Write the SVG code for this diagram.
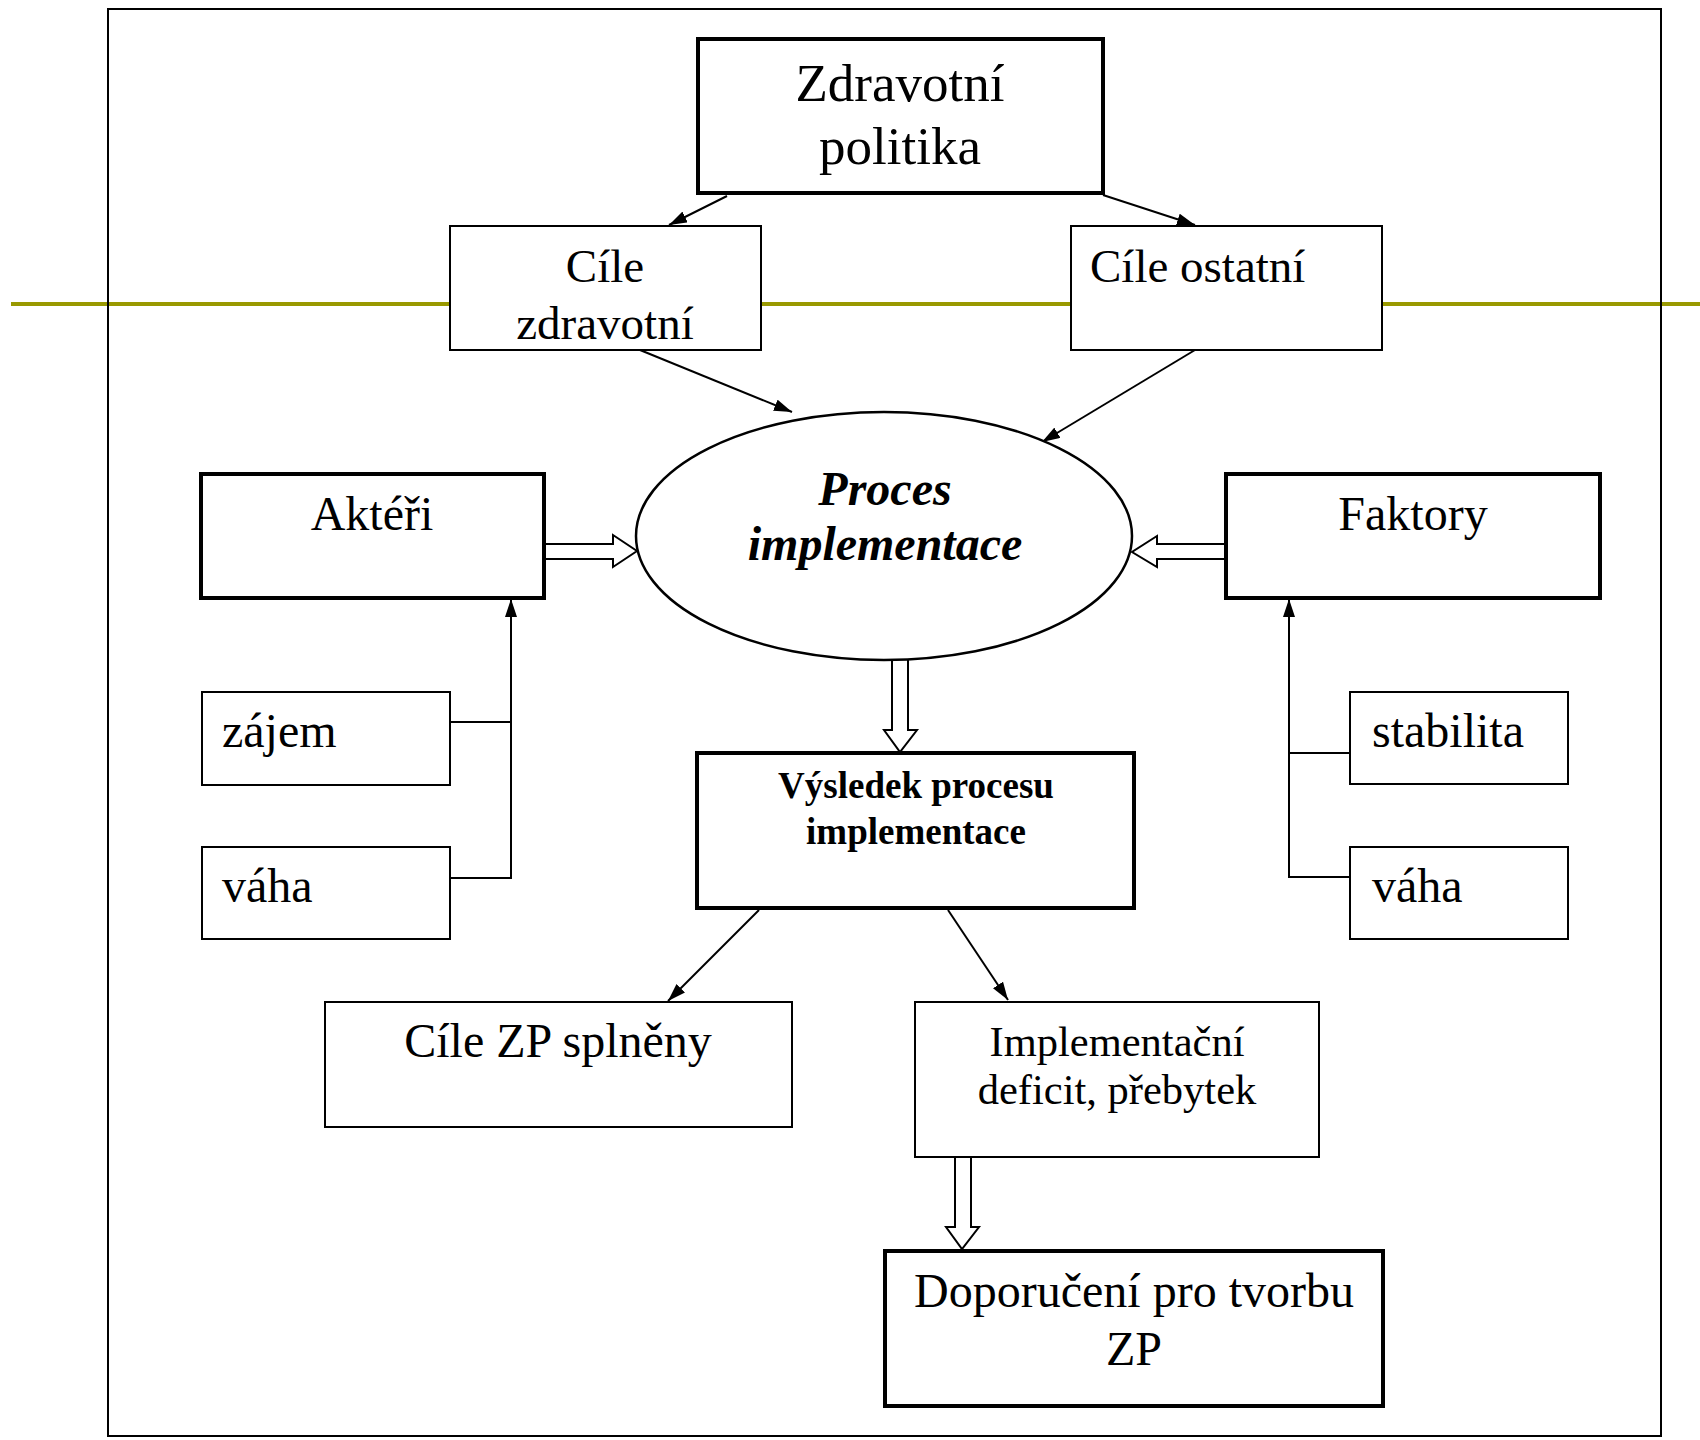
<svg xmlns="http://www.w3.org/2000/svg" width="1700" height="1440" viewBox="0 0 1700 1440">
<style>
text{font-family:"Liberation Serif","Times New Roman",serif;fill:#000}
.t48{font-size:48px}
.c{text-anchor:middle}
.thin{fill:#fff;stroke:#000;stroke-width:2}
.thick{fill:#fff;stroke:#000;stroke-width:4}
.ln{fill:none;stroke:#000;stroke-width:2}
.hollow{fill:#fff;stroke:#000;stroke-width:2;stroke-linejoin:miter}
</style>
<defs>
<marker id="ah" viewBox="0 0 18 12" refX="18" refY="6" markerWidth="18" markerHeight="12" markerUnits="userSpaceOnUse" orient="auto">
<path d="M0,0 L18,6 L0,12 z" fill="#000"/>
</marker>
</defs>
<rect width="1700" height="1440" fill="#fff"/>
<line x1="11" y1="304" x2="1700" y2="304" stroke="#999900" stroke-width="4"/>
<rect x="108" y="9" width="1553" height="1427" fill="none" stroke="#000" stroke-width="2"/>

<g id="connectors">
<line class="ln" x1="727" y1="196" x2="669" y2="225" marker-end="url(#ah)"/>
<line class="ln" x1="1103" y1="195" x2="1195" y2="225" marker-end="url(#ah)"/>
<line class="ln" x1="640" y1="350" x2="792" y2="412" marker-end="url(#ah)"/>
<line class="ln" x1="1195" y1="350" x2="1042" y2="442" marker-end="url(#ah)"/>
<line class="ln" x1="759" y1="910" x2="668" y2="1001" marker-end="url(#ah)"/>
<line class="ln" x1="948" y1="910" x2="1008" y2="1000" marker-end="url(#ah)"/>
<polyline class="ln" points="450,722 511,722"/>
<polyline class="ln" points="450,878 511,878 511,599" marker-end="url(#ah)"/>
<polyline class="ln" points="1350,753 1289,753"/>
<polyline class="ln" points="1350,877 1289,877 1289,599" marker-end="url(#ah)"/>
<polygon class="hollow" points="544,544 613,544 613,535 637,551 613,567 613,559 544,559"/>
<polygon class="hollow" points="1226,544 1157,544 1157,536 1132,552 1157,567 1157,559 1226,559"/>
<polygon class="hollow" points="892,659 892,730 884,730 900,752 917,730 908,730 908,659"/>
<polygon class="hollow" points="955,1157 955,1227 946,1227 962,1249 979,1227 971,1227 971,1157"/>
</g>

<g id="zdravotni-politika">
<rect class="thick" x="698" y="39" width="405" height="154"/>
<text class="c" x="900" y="101" font-size="53">Zdravotní</text>
<text class="c" x="900" y="164" font-size="53">politika</text>
</g>
<g id="cile-zdravotni">
<rect class="thin" x="450" y="226" width="311" height="124"/>
<text class="c" x="605" y="282" font-size="47">Cíle</text>
<text class="c" x="605" y="339" font-size="47">zdravotní</text>
</g>
<g id="cile-ostatni">
<rect class="thin" x="1071" y="226" width="311" height="124"/>
<text x="1090" y="282" font-size="47">Cíle ostatní</text>
</g>
<g id="proces">
<ellipse cx="884" cy="536" rx="248" ry="124" fill="#fff" stroke="#000" stroke-width="2.5"/>
<text class="c" x="885" y="505" font-size="48" font-weight="bold" font-style="italic">Proces</text>
<text class="c" x="885" y="560" font-size="48" font-weight="bold" font-style="italic">implementace</text>
</g>
<g id="akteri">
<rect class="thick" x="201" y="474" width="343" height="124"/>
<text class="c t48" x="372" y="530">Aktéři</text>
</g>
<g id="faktory">
<rect class="thick" x="1226" y="474" width="374" height="124"/>
<text class="c t48" x="1413" y="530">Faktory</text>
</g>
<g id="zajem">
<rect class="thin" x="202" y="692" width="248" height="93"/>
<text class="t48" x="222" y="747">zájem</text>
</g>
<g id="vaha-left">
<rect class="thin" x="202" y="847" width="248" height="92"/>
<text class="t48" x="222" y="902">váha</text>
</g>
<g id="stabilita">
<rect class="thin" x="1350" y="692" width="218" height="92"/>
<text class="t48" x="1372" y="747">stabilita</text>
</g>
<g id="vaha-right">
<rect class="thin" x="1350" y="847" width="218" height="92"/>
<text class="t48" x="1372" y="902">váha</text>
</g>
<g id="vysledek">
<rect class="thick" x="697" y="753" width="437" height="155"/>
<text class="c" x="916" y="798" font-size="37" font-weight="bold">Výsledek procesu</text>
<text class="c" x="916" y="844" font-size="37" font-weight="bold">implementace</text>
</g>
<g id="cile-zp">
<rect class="thin" x="325" y="1002" width="467" height="125"/>
<text class="c t48" x="558" y="1057">Cíle ZP splněny</text>
</g>
<g id="implementacni">
<rect class="thin" x="915" y="1002" width="404" height="155"/>
<text class="c" x="1117" y="1056" font-size="42.5">Implementační</text>
<text class="c" x="1117" y="1104" font-size="42.5">deficit, přebytek</text>
</g>
<g id="doporuceni">
<rect class="thick" x="885" y="1251" width="498" height="155"/>
<text class="c t48" x="1134" y="1307">Doporučení pro tvorbu</text>
<text class="c t48" x="1134" y="1365">ZP</text>
</g>
</svg>
